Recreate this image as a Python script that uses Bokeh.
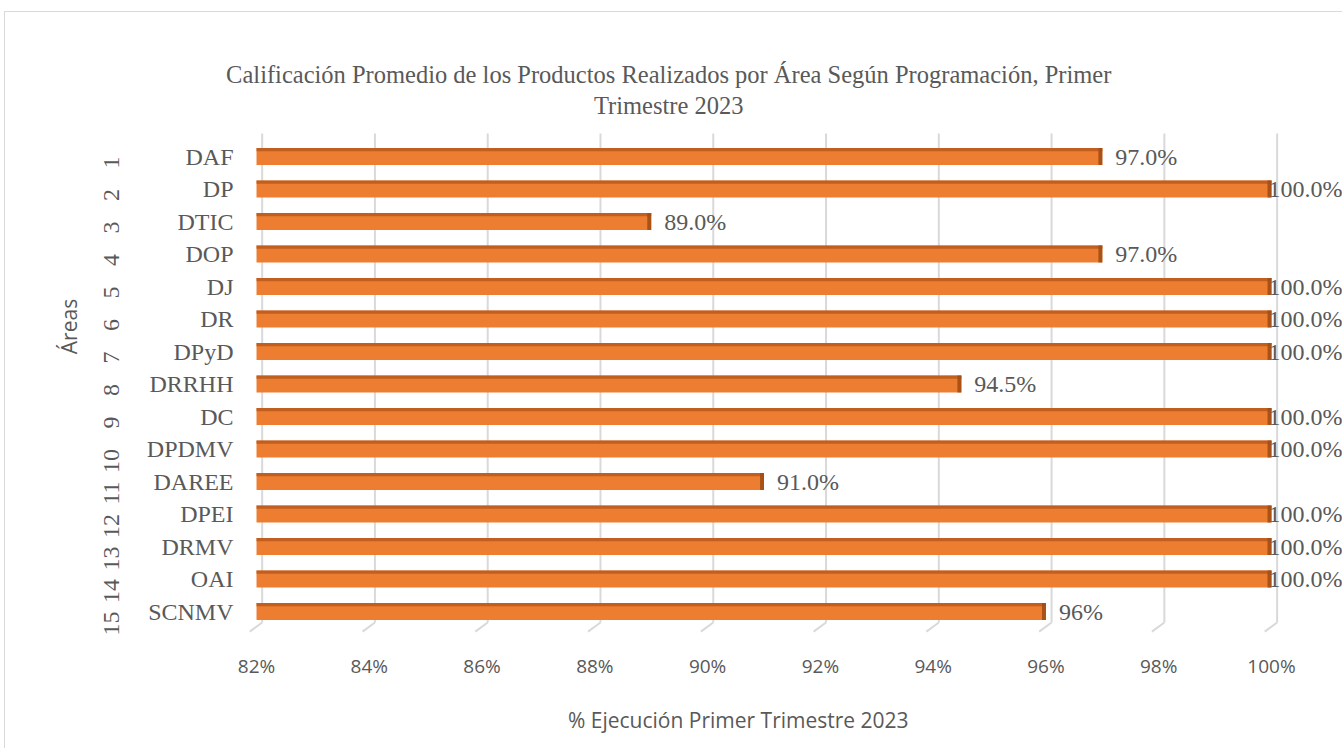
import math
from bokeh.plotting import figure
from bokeh.models import (Range1d, FixedTicker, Label, ColumnDataSource)
from bokeh.core.properties import value
from bokeh.embed import file_html
from bokeh.resources import INLINE

# ---------------- data ----------------
area_numbers = [str(i) for i in range(1, 16)]
area_names = ["DAF", "DP", "DTIC", "DOP", "DJ", "DR", "DPyD", "DRRHH", "DC",
              "DPDMV", "DAREE", "DPEI", "DRMV", "OAI", "SCNMV"]
scores = [97.0, 100.0, 89.0, 97.0, 100.0, 100.0, 100.0, 94.5, 100.0, 100.0,
          91.0, 100.0, 100.0, 100.0, 96.0]
score_labels = ["97.0%", "100.0%", "89.0%", "97.0%", "100.0%", "100.0%",
                "100.0%", "94.5%", "100.0%", "100.0%", "91.0%", "100.0%",
                "100.0%", "100.0%", "96%"]
x_ticks = [82, 84, 86, 88, 90, 92, 94, 96, 98, 100]
x_tick_labels = ["82%", "84%", "86%", "88%", "90%", "92%", "94%", "96%", "98%", "100%"]
title_lines = ["Calificación Promedio de los Productos Realizados por Área Según Programación, Primer",
               "Trimestre 2023"]
x_title = "% Ejecución  Primer Trimestre 2023"
y_title = "Áreas"

# ---------------- styles ----------------
SERIF = "Liberation Serif"
SANS = "Open Sans"
TXT = "#595959"
ORANGE = "#ED7D31"
ORANGE_TOP = "#B9591E"
ORANGE_END = "#A24C14"
GRID = "#D9D9D9"

rows = list(range(1, len(area_names) + 1))

p = figure(width=1338, height=737, output_backend="svg", toolbar_location=None,
           x_range=Range1d(79.907, 101.277), y_range=Range1d(15.892, -3.431),
           min_border_left=133, min_border_right=0, min_border_top=0,
           min_border_bottom=109,
           styles={"margin-left": "4px", "margin-top": "11px",
                   "border-left": "1px solid #D9D9D9",
                   "border-top": "1px solid #D9D9D9"})
p.outline_line_color = None
p.xgrid.visible = False
p.ygrid.visible = False

# ---- gridlines (back wall + floor diagonal) ----
g_top, g_bot, g_floor = 0.29, 15.34, 15.62
p.segment(x0=[t + 0.1 for t in x_ticks], x1=[t + 0.1 for t in x_ticks],
          y0=[g_top] * len(x_ticks), y1=[g_bot] * len(x_ticks),
          line_color=GRID, line_width=2)
p.segment(x0=[t + 0.1 for t in x_ticks], x1=[t - 0.12 for t in x_ticks],
          y0=[g_bot] * len(x_ticks), y1=[g_floor] * len(x_ticks),
          line_color=GRID, line_width=2)

# ---- bars ----
base = x_ticks[0]
src = ColumnDataSource(dict(
    y=rows, y_top=[r - 0.21 for r in rows], right=scores,
    cap_left=[s - 0.07 for s in scores], name=area_names, lab=score_labels,
    base=[base] * len(rows),
    off=[13 if s < 100 else -3 for s in scores]))
p.hbar(y="y", left=base, right="right", height=0.52, source=src,
       fill_color=ORANGE, line_color=None)
p.hbar(y="y_top", left=base, right="right", height=0.1, source=src,
       fill_color=ORANGE_TOP, line_color=None, fill_alpha=0.85)
p.hbar(y="y", left="cap_left", right="right", height=0.52, source=src,
       fill_color=ORANGE_END, line_color=None, fill_alpha=0.9)

# ---- category names (inner level) ----
p.text(x="base", y="y", text="name", source=src, x_offset=-23,
       text_align="right", text_baseline="middle", text_font=value(SERIF),
       text_font_size="24px", text_color=TXT)

# ---- data labels ----
p.text(x="right", y="y", text="lab", x_offset="off", source=src,
       text_font=value(SERIF), text_font_size="24px", text_color=TXT,
       text_baseline="middle", text_align="left")

# ---- x axis ----
xa = p.xaxis[0]
xa.ticker = FixedTicker(ticks=x_ticks)
xa.major_label_overrides = {t: l for t, l in zip(x_ticks, x_tick_labels)}
xa.major_label_text_font = SANS
xa.major_label_text_font_size = "19px"
xa.major_label_text_color = TXT
xa.major_label_standoff = 12
xa.axis_line_color = None
xa.major_tick_line_color = None
xa.minor_tick_line_color = None
xa.major_tick_out = 0
xa.axis_label = x_title
xa.axis_label_text_font = SANS
xa.axis_label_text_font_size = "21px"
xa.axis_label_text_font_style = "normal"
xa.axis_label_text_color = TXT
xa.axis_label_standoff = 24

# ---- y axis: numbers (outer level) ----
ya = p.yaxis[0]
ya.ticker = FixedTicker(ticks=rows)
ya.major_label_overrides = {r: n for r, n in zip(rows, area_numbers)}
ya.major_label_orientation = math.pi / 2
ya.major_label_text_font = SERIF
ya.major_label_text_font_size = "24px"
ya.major_label_text_color = TXT
ya.major_label_standoff = 27
ya.axis_line_color = None
ya.major_tick_line_color = None
ya.minor_tick_line_color = None
ya.major_tick_out = 0
ya.axis_label = y_title
ya.axis_label_text_font = SANS
ya.axis_label_text_font_size = "21px"
ya.axis_label_text_font_style = "normal"
ya.axis_label_text_color = TXT
ya.axis_label_standoff = 11

# ---- title (two centred lines) ----
x_mid_title = 89.31
for line, yy in zip(title_lines, [-1.53, -0.57]):
    p.add_layout(Label(x=x_mid_title, y=yy, text=line, text_align="center",
                       text_baseline="middle", text_font=SERIF,
                       text_font_size="24.5px", text_color=TXT))

open("out.html", "w").write(file_html(p, INLINE))
